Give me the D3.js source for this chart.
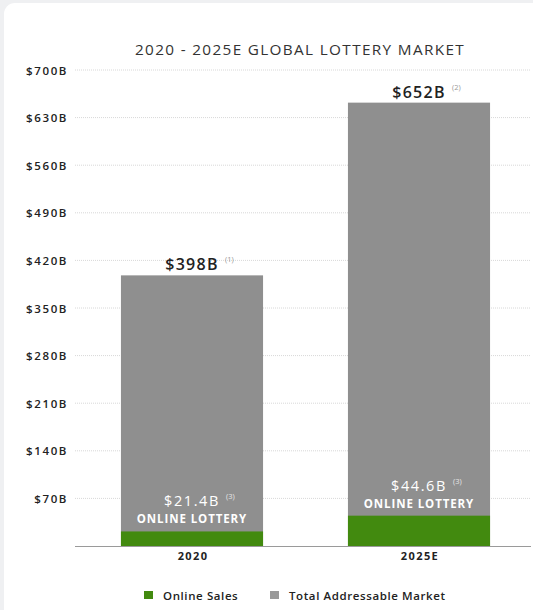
<!DOCTYPE html>
<html><head><meta charset="utf-8">
<script src="https://cdn.jsdelivr.net/npm/d3@7"></script>
<style>
html,body{margin:0;padding:0;background:#eff0f2;}
svg{display:block;}
</style></head>
<body>
<svg id="chart" width="533" height="610"></svg>
<script>
const categories = ["2020", "2025E"];
const totalMarket = [398, 652];
const onlineSales = [21.4, 44.6];
const totalNotes = ["(1)", "(2)"];
const onlineNotes = ["(3)", "(3)"];
const yTicks = [70, 140, 210, 280, 350, 420, 490, 560, 630, 700];
const title = "2020 - 2025E GLOBAL LOTTERY MARKET";
const legendLabels = ["Online Sales", "Total Addressable Market"];

const W = 533, H = 610;
const svg = d3.select("#chart");
const font = "'Open Sans', 'Noto Sans', sans-serif";
const green = "#428a0f", grey = "#8f8f8f";

// card
svg.append("rect").attr("x", 4).attr("y", 3).attr("width", 545).attr("height", 640)
  .attr("rx", 11).attr("fill", "#ffffff");

const x = d3.scaleBand().domain(categories).range([78.5, 532.5])
  .paddingInner(0.374).paddingOuter(0.187);
const y = d3.scaleLinear().domain([0, 700]).range([546, 70]);

// gridlines
svg.append("g").selectAll("line").data(yTicks).join("line")
  .attr("x1", 75).attr("x2", 531)
  .attr("y1", d => y(d)).attr("y2", d => y(d))
  .attr("stroke", "#d8d8d8").attr("stroke-width", 1)
  .attr("stroke-dasharray", "1,1");

// y axis labels
const yAxis = d3.axisLeft(y).tickValues(yTicks).tickSize(0).tickPadding(0)
  .tickFormat(d => "$" + d + "B");
const yg = svg.append("g").attr("transform", "translate(68,0)").call(yAxis);
yg.select(".domain").remove();
yg.selectAll("text").attr("font-family", font).attr("font-weight", 600)
  .attr("font-size", 11.5).attr("letter-spacing", 1.6).attr("fill", "#222").attr("dy", "0.35em");

// title
svg.append("text").attr("x", 300).attr("y", 55).attr("text-anchor", "middle")
  .attr("font-family", font).attr("font-size", 15.3).attr("fill", "#333")
  .attr("letter-spacing", 1.35).text(title);

const data = categories.map((c, i) => ({c, total: totalMarket[i], online: onlineSales[i], tn: totalNotes[i], on: onlineNotes[i]}));

// total bars
svg.append("g").selectAll("rect").data(data).join("rect")
  .attr("x", d => x(d.c)).attr("width", x.bandwidth())
  .attr("y", d => y(d.total)).attr("height", d => y(0) - y(d.total))
  .attr("fill", grey);
// online bars
svg.append("g").selectAll("rect").data(data).join("rect")
  .attr("x", d => x(d.c)).attr("width", x.bandwidth())
  .attr("y", d => y(d.online)).attr("height", d => y(0) - y(d.online))
  .attr("fill", green);

// axis line
svg.append("line").attr("x1", 75).attr("x2", 531).attr("y1", y(0) + 0.5).attr("y2", y(0) + 0.5)
  .attr("stroke", "#9a9a9a").attr("stroke-width", 1.2);

// x labels
const xAxis = d3.axisBottom(x).tickSize(0).tickPadding(0);
const xg = svg.append("g").attr("transform", `translate(1,${y(0) + 14})`).call(xAxis);
xg.select(".domain").remove();
xg.selectAll("text").attr("font-family", font).attr("font-weight", 700)
  .attr("font-size", 11).attr("letter-spacing", 1.4).attr("fill", "#222").attr("dy", 0);

// total labels
const tg = svg.append("g").selectAll("g").data(data).join("g")
  .attr("transform", d => `translate(${x(d.c) + x.bandwidth() / 2},${y(d.total) - 5})`);
tg.append("text").attr("text-anchor", "middle").attr("font-family", font)
  .attr("font-size", 16).attr("font-weight", 600).attr("letter-spacing", 1.3).attr("fill", "#222")
  .text(d => "$" + d.total + "B");
tg.append("text").attr("x", 33).attr("y", -8).attr("font-family", font)
  .attr("font-size", 7.5).attr("fill", "#999").text(d => d.tn);

// online labels
const ol = svg.append("g").selectAll("g").data(data).join("g")
  .attr("transform", d => `translate(${x(d.c) + x.bandwidth() / 2},${y(d.online)})`);
ol.append("text").attr("x", 0).attr("y", -25).attr("text-anchor", "middle")
  .attr("font-family", font).attr("fill", "#fff").attr("font-size", 14.5).attr("letter-spacing", 1.6)
  .text(d => "$" + d.online + "B");
ol.append("text").attr("x", 34).attr("y", -32).attr("font-family", font)
  .attr("font-size", 7.5).attr("fill", "#e6e6e6").text(d => d.on);
ol.append("text").attr("x", 0).attr("y", -8).attr("text-anchor", "middle")
  .attr("font-family", font).attr("font-size", 11.5).attr("font-weight", 700)
  .attr("fill", "#fff").attr("letter-spacing", 0.9).text("ONLINE LOTTERY");

// legend
const legColors = [green, "#999"];
const legX = [144, 270];
const lg = svg.append("g").selectAll("g").data(legendLabels).join("g")
  .attr("transform", (d, i) => `translate(${legX[i]},591)`);
lg.append("rect").attr("width", 9).attr("height", 8).attr("fill", (d, i) => legColors[i]);
lg.append("text").attr("x", 19).attr("y", 8.5).attr("font-family", font).attr("font-weight", 600)
  .attr("font-size", 11.5).attr("letter-spacing", 0.6).attr("fill", "#222").text(d => d);
</script>
</body></html>
